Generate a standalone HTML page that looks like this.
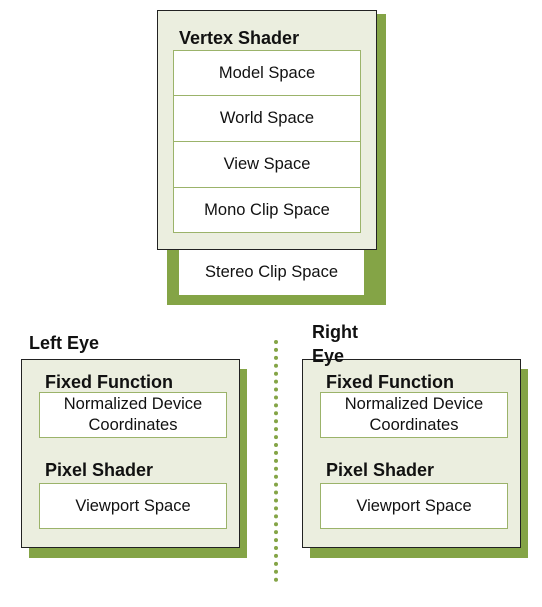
<!DOCTYPE html>
<html><head><style>
body{margin:0;width:542px;height:607px;background:#fff;position:relative;font-family:"Liberation Sans",sans-serif;overflow:hidden}
.a{position:absolute;box-sizing:border-box}
.g{background:#84a446}
.m{background:#ebeedf;border:1px solid #222}
.w{background:#fff;border:1px solid #9bb36a;display:flex;align-items:center;justify-content:center;text-align:center;font-size:16.5px;color:#111;line-height:21px}
.h{font-weight:bold;font-size:18px;color:#111;white-space:nowrap}
</style></head><body>
<div class="a g" style="left:167px;top:14px;width:219px;height:291px"></div>
<div class="a m" style="left:157px;top:10px;width:220px;height:240px"></div>
<div class="a h" style="left:179px;top:28px">Vertex Shader</div>
<div class="a w" style="left:173px;top:50px;width:188px;height:46px">Model Space</div>
<div class="a w" style="left:173px;top:95px;width:188px;height:47px">World Space</div>
<div class="a w" style="left:173px;top:141px;width:188px;height:47px">View Space</div>
<div class="a w" style="left:173px;top:187px;width:188px;height:46px">Mono Clip Space</div>
<div class="a w" style="left:179px;top:250px;width:185px;height:45px;border:none">Stereo Clip Space</div>

<div class="a h" style="left:29px;top:333px">Left Eye</div>
<div class="a g" style="left:29px;top:369px;width:218px;height:189px"></div>
<div class="a m" style="left:21px;top:359px;width:219px;height:189px"></div>
<div class="a h" style="left:45px;top:372px">Fixed Function</div>
<div class="a w" style="left:39px;top:392px;width:188px;height:46px">Normalized Device<br>Coordinates</div>
<div class="a h" style="left:45px;top:460px">Pixel Shader</div>
<div class="a w" style="left:39px;top:483px;width:188px;height:46px">Viewport Space</div>

<div class="a" style="left:274px;top:340px;width:0;height:242px;border-left:4px dotted #84a446"></div>

<div class="a g" style="left:310px;top:369px;width:218px;height:189px"></div>
<div class="a m" style="left:302px;top:359px;width:219px;height:189px"></div>
<div class="a h" style="left:312px;top:320px;line-height:24px">Right<br>Eye</div>
<div class="a h" style="left:326px;top:372px">Fixed Function</div>
<div class="a w" style="left:320px;top:392px;width:188px;height:46px">Normalized Device<br>Coordinates</div>
<div class="a h" style="left:326px;top:460px">Pixel Shader</div>
<div class="a w" style="left:320px;top:483px;width:188px;height:46px">Viewport Space</div>
</body></html>
